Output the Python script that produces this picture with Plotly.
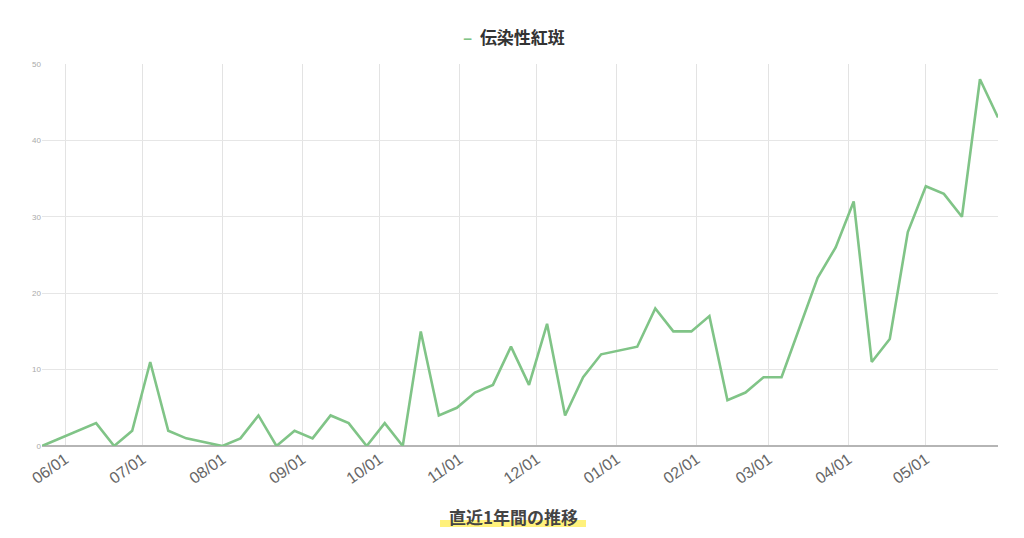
import pandas as pd
import plotly.graph_objects as go

# 週ごとの報告数（None は点のない週）
start_date = "2024-05-23"
weekly_counts = [
    0, 1, 2, 3, 0, 2, 11, 2, 1, None,
    0, 1, 4, 0, 2, 1, 4, 3, 0, 3,
    0, 15, 4, 5, 7, 8, 13, 8, 16, 4,
    9, 12, None, 13, 18, 15, 15, 17, 6, 7,
    9, 9, None, 22, 26, 32, 11, 14, 28, 34,
    33, 30, 48, 43,
]
series_name = "伝染性紅斑"
y_ticks = [0, 10, 20, 30, 40, 50]

dates = pd.date_range(start_date, periods=len(weekly_counts), freq="7D")
line_color = "#80c487"

fig = go.Figure()
fig.add_trace(go.Scatter(
    x=dates,
    y=weekly_counts,
    mode="lines",
    name=series_name,
    connectgaps=True,
    line=dict(color=line_color, width=2.6),
    showlegend=False,
))

# ページの余白(8px)を見込んだマージン
fig.update_layout(
    width=1024,
    height=538,
    margin=dict(l=34, r=34, t=56, b=100),
    paper_bgcolor="white",
    plot_bgcolor="white",
    font=dict(family="Liberation Sans, Arial, sans-serif", color="#666"),
)

fig.update_xaxes(
    type="date",
    range=[dates[0], dates[-1]],
    dtick="M1",
    tick0="2024-06-01",
    tickformat="%m/%d",
    tickangle=-35,
    tickfont=dict(size=16, color="#666"),
    showgrid=True,
    gridcolor="#e3e3e3",
    gridwidth=1,
    showline=False,
    ticks="",
    zeroline=False,
)
fig.update_yaxes(
    range=[0, 50],
    tickvals=y_ticks,
    tickfont=dict(size=8, color="#aaa"),
    showgrid=True,
    gridcolor="#e6e6e6",
    gridwidth=1,
    zeroline=True,
    zerolinecolor="#b5b5b5",
    zerolinewidth=1.5,
    showline=False,
    ticks="",
)

# 凡例風の見出し
fig.add_annotation(
    x=(514 - 42) / 956, y=1.0 + (64 - 36) / 382, xref="paper", yref="paper",
    text=f"<span style='color:{line_color}'><b>–</b></span>  <b>{series_name}</b>",
    showarrow=False,
    font=dict(family="Noto Sans CJK JP", size=17, color="#333"),
    yanchor="middle",
)

# 下の見出しと黄色のマーカー線
fig.add_shape(
    type="rect", xref="paper", yref="paper",
    x0=(440 - 42) / 956, x1=(586 - 42) / 956,
    y0=-(520 - 446) / 382, y1=-(527 - 446) / 382,
    fillcolor="rgba(255,236,80,0.75)", line_width=0, layer="below",
)
fig.add_annotation(
    x=(513 - 42) / 956, y=-(516 - 446) / 382, xref="paper", yref="paper",
    text="<b>直近1年間の推移</b>",
    showarrow=False,
    font=dict(family="Noto Sans CJK JP", size=17, color="#444"),
    yanchor="middle",
)

fig.write_html("out.html")
